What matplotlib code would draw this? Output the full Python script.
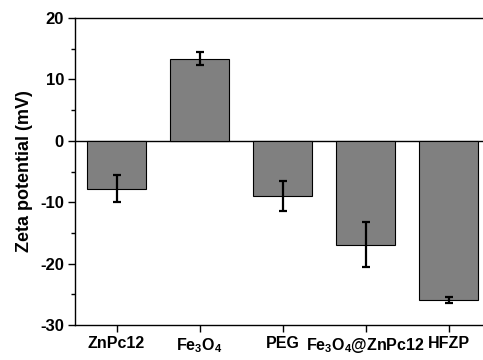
import matplotlib.pyplot as plt
from matplotlib.ticker import MultipleLocator

plt.rcParams['font.family'] = ['Liberation Sans', 'DejaVu Sans']
plt.rcParams['font.weight'] = 'bold'
plt.rcParams['axes.unicode_minus'] = False
plt.rcParams['mathtext.fontset'] = 'custom'
plt.rcParams['mathtext.rm'] = 'Liberation Sans:weight=bold'
plt.rcParams['mathtext.bf'] = 'Liberation Sans:weight=bold'
plt.rcParams['mathtext.it'] = 'Liberation Sans:weight=bold'

# Дані з графіка
samples = ["ZnPc12", r"$\mathbf{Fe_3O_4}$", "PEG", r"$\mathbf{Fe_3O_4}$@ZnPc12", "HFZP"]
zeta = [-7.8, 13.4, -9.0, -16.9, -25.9]
errors = [2.2, 1.0, 2.4, 3.7, 0.5]

fig = plt.figure(figsize=(4.83, 3.6), dpi=100)
ax = fig.add_axes([75 / 483, 1 - 325 / 360, 415 / 483, 307 / 360])

x = range(1, len(samples) + 1)
ax.bar(x, zeta, width=0.7, color="#808080", edgecolor="black", linewidth=0.8,
       yerr=errors, capsize=3,
       error_kw=dict(elinewidth=1.6, capthick=1.6, ecolor="black"))
ax.axhline(0, color="black", linewidth=1.0, zorder=0)

ax.set_xlim(0.5, 5.5)
ax.set_ylim(-30, 20)
ax.set_xticks(list(x))
ax.set_xticklabels(samples, fontsize=11.5, fontweight="bold")
ax.yaxis.set_major_locator(MultipleLocator(10))
ax.yaxis.set_minor_locator(MultipleLocator(5))
ax.tick_params(axis="both", which="major", direction="out", length=5, width=1,
               labelsize=12, pad=3)
ax.tick_params(axis="x", labelsize=11.5)
ax.tick_params(axis="y", which="minor", direction="out", length=3, width=1)
for lab in ax.get_yticklabels():
    lab.set_fontweight("bold")
ax.set_ylabel("Zeta potential (mV)", fontsize=13, fontweight="bold", labelpad=5)

for s in ax.spines.values():
    s.set_linewidth(1.0)

fig.savefig("out.png", dpi=100)
